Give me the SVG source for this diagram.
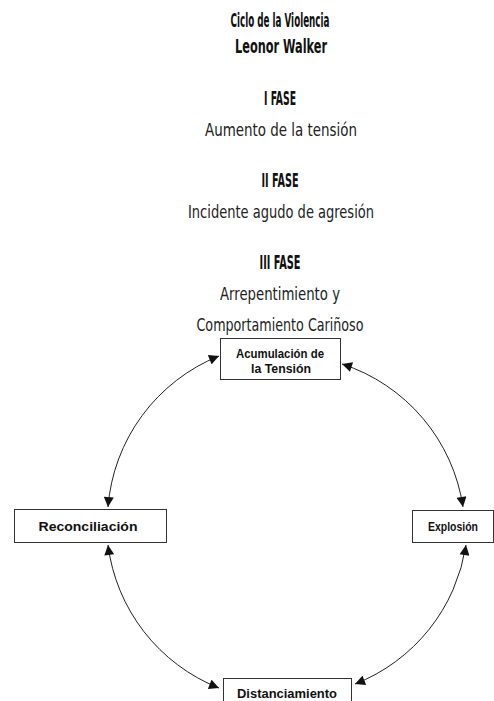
<svg xmlns="http://www.w3.org/2000/svg" width="494" height="701" viewBox="0 0 494 701">
<defs>
<marker id="ah" viewBox="0 0 10 10" refX="10" refY="5" markerWidth="11" markerHeight="10" markerUnits="userSpaceOnUse" orient="auto-start-reverse">
<path d="M0,0 L10,5 L0,10 z" fill="#111"/>
</marker>
<style>
.h{font-family:"DejaVu Sans Condensed","DejaVu Sans",sans-serif;font-weight:bold;font-size:19px;fill:#111;text-anchor:middle}
.t{font-family:"DejaVu Sans Condensed","DejaVu Sans",sans-serif;font-size:17px;fill:#222;text-anchor:middle}
.box{fill:#fff;stroke:#333;stroke-width:1}
.bt{font-family:"Liberation Sans",Arial,sans-serif;font-weight:700;font-size:13.5px;fill:#111;text-anchor:middle}
.c{fill:none;stroke:#222;stroke-width:1;marker-start:url(#ah);marker-end:url(#ah)}
</style>
</defs>
<rect width="494" height="701" fill="#fff"/>
<g id="title">
<text class="h" x="280" y="27" textLength="99" lengthAdjust="spacingAndGlyphs">Ciclo de la Violencia</text>
<text class="h" x="281" y="53" textLength="92" lengthAdjust="spacingAndGlyphs">Leonor Walker</text>
</g>
<g id="fase1">
<text class="h" x="280" y="105" textLength="32" lengthAdjust="spacingAndGlyphs">I FASE</text>
<text class="t" x="281" y="136" textLength="152" lengthAdjust="spacingAndGlyphs">Aumento de la tensión</text>
</g>
<g id="fase2">
<text class="h" x="280" y="187" textLength="37" lengthAdjust="spacingAndGlyphs">II FASE</text>
<text class="t" x="281" y="218" textLength="186" lengthAdjust="spacingAndGlyphs">Incidente agudo de agresión</text>
</g>
<g id="fase3">
<text class="h" x="280" y="269" textLength="41" lengthAdjust="spacingAndGlyphs">III FASE</text>
<text class="t" x="280" y="300" textLength="120" lengthAdjust="spacingAndGlyphs">Arrepentimiento y</text>
<text class="t" x="280" y="331" textLength="167" lengthAdjust="spacingAndGlyphs">Comportamiento Cariñoso</text>
</g>
<g id="connectors">
<path class="c" d="M219,356 A178,178 0 0 0 108,507"/>
<path class="c" d="M342,364 A178,178 0 0 1 463,507"/>
<path class="c" d="M466,545 A178,178 0 0 1 355,684"/>
<path class="c" d="M219,688 A178,178 0 0 1 108,545"/>
</g>
<g id="acumulacion">
<rect class="box" x="220.5" y="338.5" width="120" height="41"/>
<text class="bt" x="280" y="358" font-size="11" textLength="88" lengthAdjust="spacingAndGlyphs">Acumulación de</text>
<text class="bt" x="281" y="373" font-size="11" textLength="60" lengthAdjust="spacingAndGlyphs">la Tensión</text>
</g>
<g id="reconciliacion">
<rect class="box" x="14.5" y="509.5" width="152" height="33"/>
<text class="bt" x="88" y="531" textLength="99" lengthAdjust="spacingAndGlyphs">Reconciliación</text>
</g>
<g id="explosion">
<rect class="box" x="412.5" y="510.5" width="81" height="32"/>
<text class="bt" x="453" y="531" textLength="50" lengthAdjust="spacingAndGlyphs">Explosión</text>
</g>
<g id="distanciamiento">
<rect class="box" x="223.5" y="678.5" width="128" height="30"/>
<text class="bt" x="287" y="698" textLength="100" lengthAdjust="spacingAndGlyphs">Distanciamiento</text>
</g>
</svg>
